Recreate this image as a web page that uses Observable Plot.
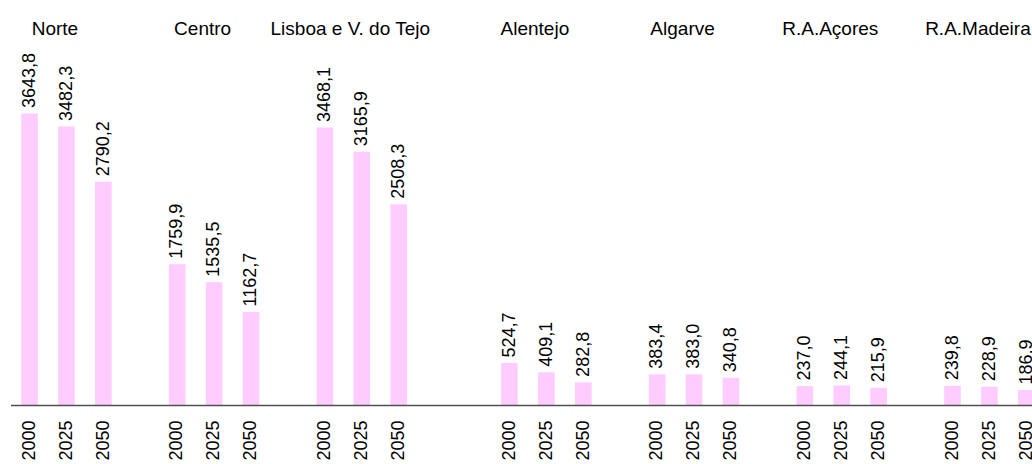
<!DOCTYPE html>
<html>
<head>
<meta charset="utf-8">
<script src="https://cdn.jsdelivr.net/npm/d3@7"></script>
<script src="https://cdn.jsdelivr.net/npm/@observablehq/plot@0.6"></script>
<style>
  html, body { margin: 0; padding: 0; background: #fff; overflow: hidden; }
  #chart svg { display: block; overflow: hidden; }
</style>
</head>
<body>
<div id="chart"></div>
<script>
// ---- data ----
const regions = ["Norte", "Centro", "Lisboa e V. do Tejo", "Alentejo", "Algarve", "R.A.Açores", "R.A.Madeira"];
const years = ["2000", "2025", "2050"];
const v2000 = [3643.8, 1759.9, 3468.1, 524.7, 383.4, 237.0, 239.8];
const v2025 = [3482.3, 1535.5, 3165.9, 409.1, 383.0, 244.1, 228.9];
const v2050 = [2790.2, 1162.7, 2508.3, 282.8, 340.8, 215.9, 186.9];
// the original chart leaves one extra empty column after this region
const extraGapAfter = "Lisboa e V. do Tejo";

// ---- build table ----
const series = [v2000, v2025, v2050];
const rows = [];
const slots = [];
regions.forEach((r, i) => {
  years.forEach((y, j) => {
    const key = r + "|" + y;
    slots.push(key);
    rows.push({region: r, year: y, key, value: series[j][i]});
  });
  if (i < regions.length - 1) slots.push("gap" + i);
  if (r === extraGapAfter) slots.push("gapx" + i);
});

const fmt = v => d3.format(".1f")(v).replace(".", ",");
const font = "'Liberation Sans', Arial, Helvetica, sans-serif";

const W = 1032, H = 464;
const step = 36.92, pIn = 0.55, pOut = 0.275;
const x0 = 11.05;
const x1 = x0 + step * (slots.length - pIn + 2 * pOut);

const chart = Plot.plot({
  width: W,
  height: H,
  marginTop: 5,
  marginBottom: 59,
  marginLeft: 11,
  marginRight: 0,
  style: {fontFamily: font, background: "#fff", color: "#000"},
  x: {type: "band", domain: slots, range: [x0, x1], paddingInner: pIn, paddingOuter: pOut, round: false, axis: null},
  y: {domain: [0, 5000], axis: null},
  marks: [
    Plot.barY(rows, {x: "key", y: "value", fill: "#FFCCFF"}),
    Plot.ruleY([0], {stroke: "#505050", strokeWidth: 1.5}),
    Plot.text(rows, {
      x: "key", y: "value", text: d => fmt(d.value),
      rotate: -90, textAnchor: "start", dy: -6, dx: -1,
      fontSize: 18, fill: "#000"
    }),
    Plot.text(rows, {
      x: "key", y: () => 0, text: "year",
      rotate: -90, textAnchor: "end", dy: 15, dx: -1,
      fontSize: 18, fill: "#000"
    }),
    Plot.text(regions, {
      x: r => r + "|" + years[1], text: r => r,
      frameAnchor: "top", lineAnchor: "top", dy: 15.5, dx: -12,
      fontSize: 19, fill: "#000"
    })
  ]
});

document.getElementById("chart").appendChild(chart);
</script>
</body>
</html>
